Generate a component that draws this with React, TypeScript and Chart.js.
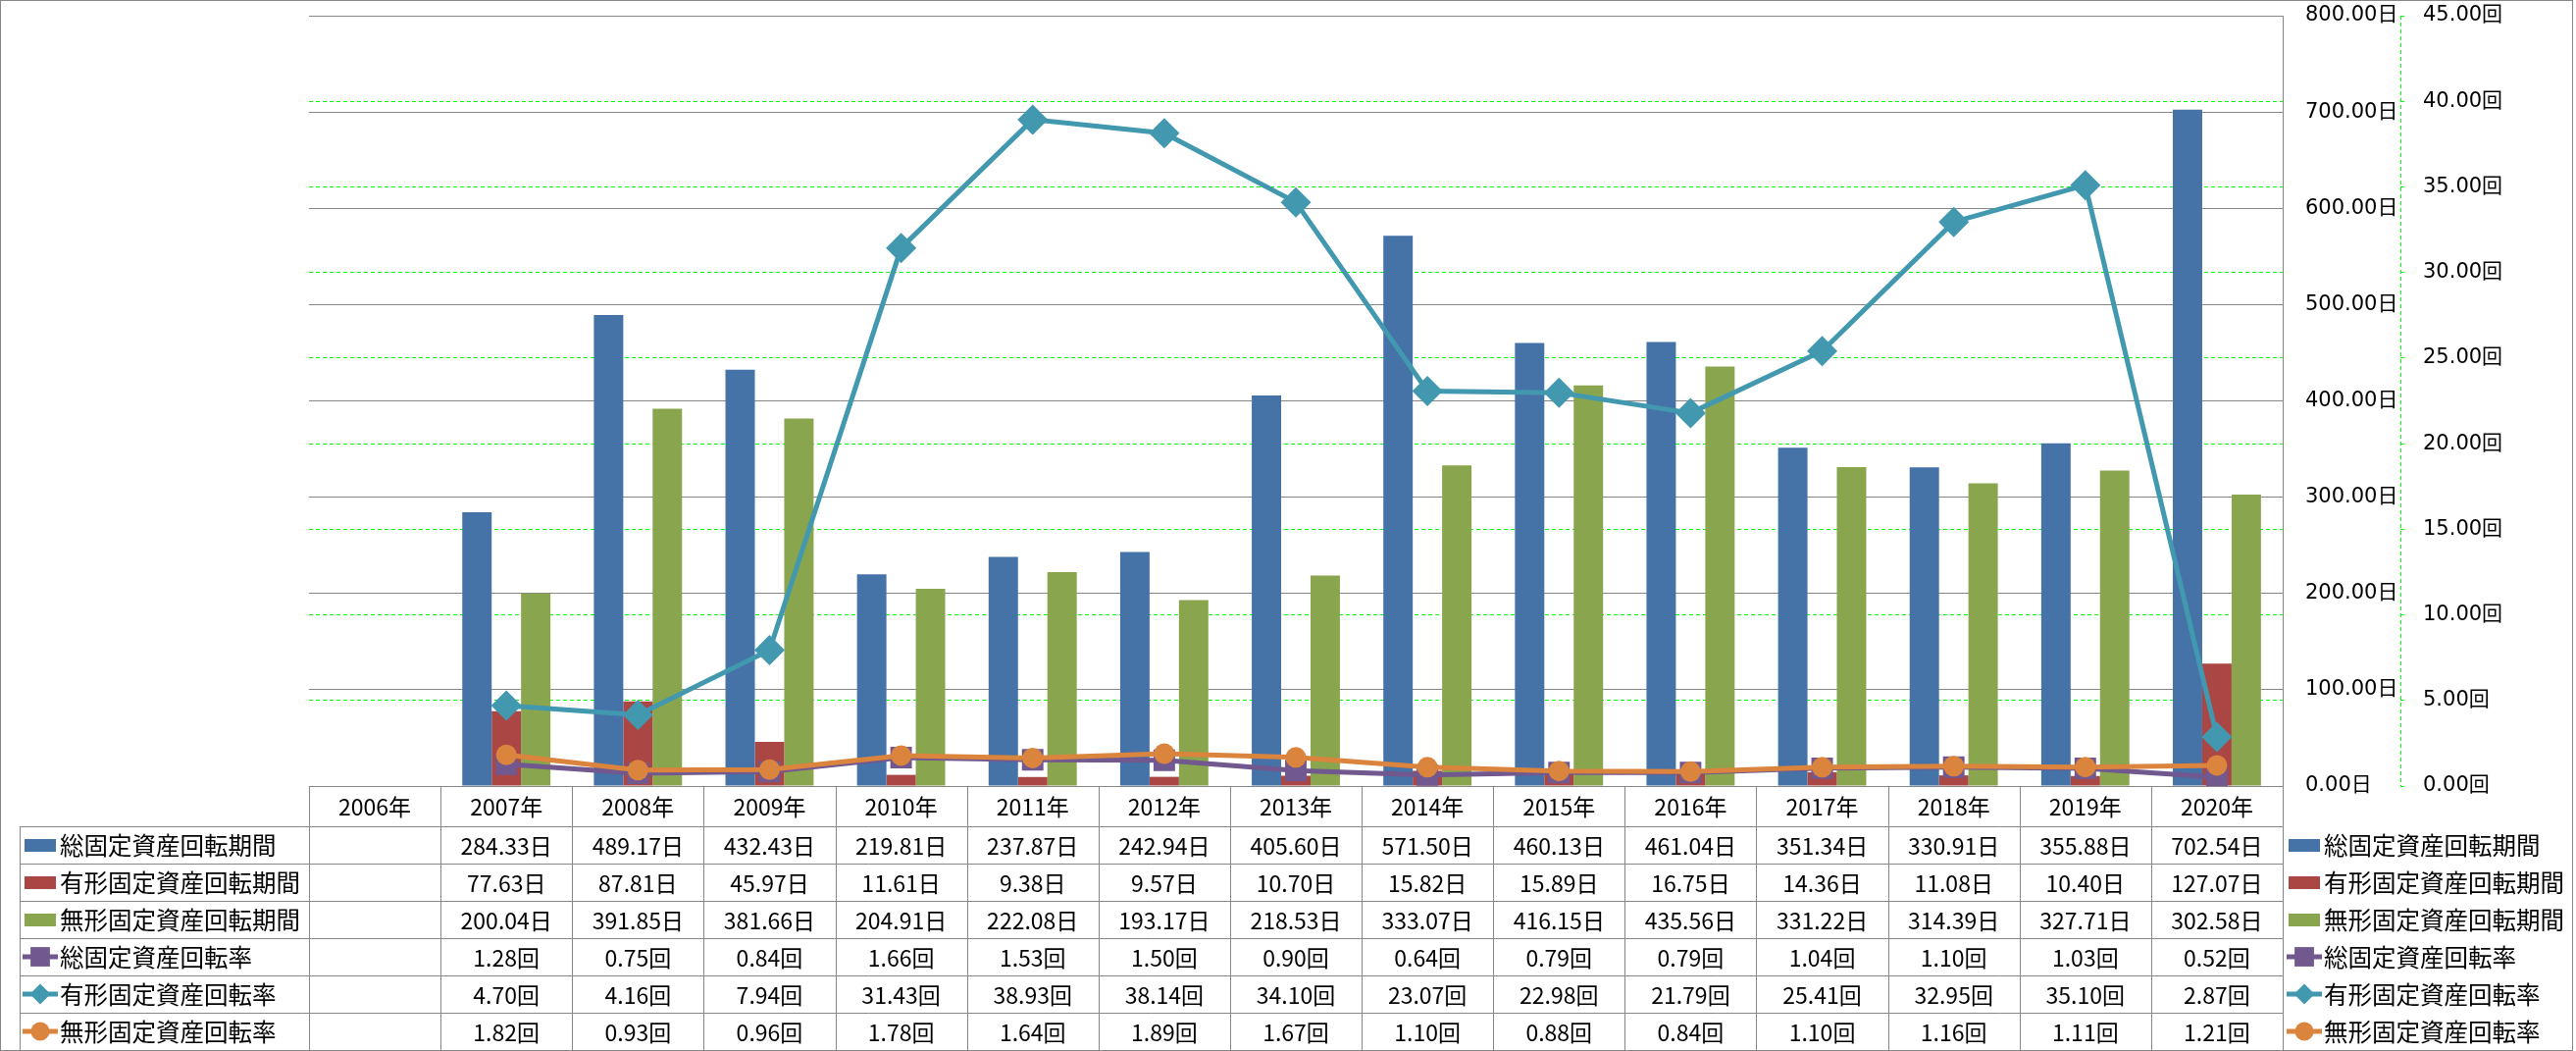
import React, { useEffect, useRef } from "react";
import { Chart, registerables } from "chart.js";

Chart.register(...registerables);

const years = ["2006年", "2007年", "2008年", "2009年", "2010年", "2011年", "2012年", "2013年", "2014年", "2015年", "2016年", "2017年", "2018年", "2019年", "2020年"];

const totalPeriod = [null, 284.33, 489.17, 432.43, 219.81, 237.87, 242.94, 405.6, 571.5, 460.13, 461.04, 351.34, 330.91, 355.88, 702.54];
const tangiblePeriod = [null, 77.63, 87.81, 45.97, 11.61, 9.38, 9.57, 10.7, 15.82, 15.89, 16.75, 14.36, 11.08, 10.4, 127.07];
const intangiblePeriod = [null, 200.04, 391.85, 381.66, 204.91, 222.08, 193.17, 218.53, 333.07, 416.15, 435.56, 331.22, 314.39, 327.71, 302.58];
const totalRate = [null, 1.28, 0.75, 0.84, 1.66, 1.53, 1.5, 0.9, 0.64, 0.79, 0.79, 1.04, 1.1, 1.03, 0.52];
const tangibleRate = [null, 4.7, 4.16, 7.94, 31.43, 38.93, 38.14, 34.1, 23.07, 22.98, 21.79, 25.41, 32.95, 35.1, 2.87];
const intangibleRate = [null, 1.82, 0.93, 0.96, 1.78, 1.64, 1.89, 1.67, 1.1, 0.88, 0.84, 1.1, 1.16, 1.11, 1.21];

const seriesNames = [
  "総固定資産回転期間",
  "有形固定資産回転期間",
  "無形固定資産回転期間",
  "総固定資産回転率",
  "有形固定資産回転率",
  "無形固定資産回転率",
];

const dayUnit = "日";
const rateUnit = "回";
const dayAxisMax = 800;
const dayAxisStep = 100;
const rateAxisMax = 45;
const rateAxisStep = 5;

const BLUE = "#4572A7";
const RED = "#AA4643";
const GREEN = "#89A54E";
const PURPLE = "#71588F";
const TEAL = "#4198AF";
const ORANGE = "#DB843D";
const GRAY = "#868686";
const GRID_GREEN = "#00FF00";

const TICK_FAMILY = "'DejaVu Sans', 'Noto Sans CJK JP', sans-serif";
const TABLE_FAMILY = "'Noto Sans CJK JP', 'Noto Sans', sans-serif";

type Row = { label: string; values: (number | null)[]; unit: string; color: string; kind: "bar" | "line"; marker?: string };

const rows: Row[] = [
  { label: seriesNames[0], values: totalPeriod, unit: dayUnit, color: BLUE, kind: "bar" },
  { label: seriesNames[1], values: tangiblePeriod, unit: dayUnit, color: RED, kind: "bar" },
  { label: seriesNames[2], values: intangiblePeriod, unit: dayUnit, color: GREEN, kind: "bar" },
  { label: seriesNames[3], values: totalRate, unit: rateUnit, color: PURPLE, kind: "line", marker: "rect" },
  { label: seriesNames[4], values: tangibleRate, unit: rateUnit, color: TEAL, kind: "line", marker: "rectRot" },
  { label: seriesNames[5], values: intangibleRate, unit: rateUnit, color: ORANGE, kind: "line", marker: "circle" },
];

function drawMarker(ctx: CanvasRenderingContext2D, style: string, x: number, y: number, r: number, color: string) {
  ctx.fillStyle = color;
  ctx.beginPath();
  if (style === "rect") {
    const s = r * Math.SQRT1_2;
    ctx.rect(x - s, y - s, 2 * s, 2 * s);
  } else if (style === "rectRot") {
    ctx.moveTo(x - r, y);
    ctx.lineTo(x, y - r);
    ctx.lineTo(x + r, y);
    ctx.lineTo(x, y + r);
    ctx.closePath();
  } else {
    ctx.arc(x, y, r, 0, Math.PI * 2);
  }
  ctx.fill();
}

function drawKey(ctx: CanvasRenderingContext2D, row: Row, x: number, cy: number) {
  if (row.kind === "bar") {
    ctx.fillStyle = row.color;
    ctx.fillRect(x, Math.round(cy - 6.5), 32, 13);
  } else {
    ctx.strokeStyle = row.color;
    ctx.lineWidth = 5;
    ctx.beginPath();
    ctx.moveTo(x - 2, cy);
    ctx.lineTo(x + 34, cy);
    ctx.stroke();
    const r = row.marker === "rect" ? 14 : row.marker === "rectRot" ? 10.5 : 9.5;
    drawMarker(ctx, row.marker || "circle", x + 16, cy, r, row.color);
  }
}

const tablePlugin = {
  id: "dataTable",
  afterDraw(chart: any) {
    const ctx: CanvasRenderingContext2D = chart.ctx;
    const { left, right, bottom } = chart.chartArea;
    const n = years.length;
    const colW = (right - left) / n;
    const headerH = 41;
    const rowH = 38;
    const headerBottom = bottom + headerH;
    const tableBottom = headerBottom + rowH * rows.length;
    const labelLeft = 20;
    ctx.save();

    // outer frame
    ctx.strokeStyle = GRAY;
    ctx.lineWidth = 1;
    ctx.strokeRect(0.5, 0.5, 2622, 1070);

    // secondary axis dashed line
    const y1 = chart.scales.y1;
    ctx.save();
    ctx.strokeStyle = GRID_GREEN;
    ctx.setLineDash([4, 3]);
    ctx.beginPath();
    ctx.moveTo(Math.round(y1.left) + 0.5, chart.chartArea.top);
    ctx.lineTo(Math.round(y1.left) + 0.5, bottom);
    ctx.stroke();
    ctx.restore();

    // table grid
    ctx.strokeStyle = GRAY;
    ctx.lineWidth = 1;
    ctx.beginPath();
    for (let i = 0; i <= n; i++) {
      const x = Math.round(left + i * colW) + 0.5;
      ctx.moveTo(x, bottom);
      ctx.lineTo(x, tableBottom);
    }
    for (let r = 0; r <= rows.length; r++) {
      const y = Math.round(headerBottom + r * rowH) + 0.5;
      ctx.moveTo(labelLeft + 0.5, y);
      ctx.lineTo(right, y);
    }
    ctx.moveTo(labelLeft + 0.5, headerBottom);
    ctx.lineTo(labelLeft + 0.5, tableBottom);
    ctx.stroke();

    // header
    ctx.fillStyle = "#000";
    ctx.textBaseline = "middle";
    ctx.textAlign = "center";
    ctx.font = `23px ${TABLE_FAMILY}`;
    years.forEach((yr, i) => {
      ctx.fillText(yr, left + (i + 0.5) * colW, bottom + headerH / 2 + 1);
    });

    // rows
    rows.forEach((row, r) => {
      const cy = headerBottom + r * rowH + rowH / 2;
      ctx.textAlign = "center";
      ctx.fillStyle = "#000";
      ctx.font = `23px ${TABLE_FAMILY}`;
      row.values.forEach((v, i) => {
        if (v === null || v === undefined) return;
        ctx.fillText(`${v.toFixed(2)}${row.unit}`, left + (i + 0.5) * colW, cy + 1);
      });
      // left label
      drawKey(ctx, row, labelLeft + 5, cy);
      ctx.fillStyle = "#000";
      ctx.textAlign = "left";
      ctx.font = `24.5px ${TABLE_FAMILY}`;
      ctx.fillText(row.label, labelLeft + 41, cy + 1);
      // right legend
      drawKey(ctx, row, right + 6, cy);
      ctx.fillStyle = "#000";
      ctx.fillText(row.label, right + 42, cy + 1);
    });
    ctx.restore();
  },
};

export default function App() {
  const canvasRef = useRef<HTMLCanvasElement | null>(null);

  useEffect(() => {
    const canvas = canvasRef.current;
    if (!canvas) return;
    const chart = new Chart(canvas, {
      type: "bar",
      data: {
        labels: years,
        datasets: [
          {
            type: "line",
            label: seriesNames[5],
            data: intangibleRate,
            yAxisID: "y1",
            borderColor: ORANGE,
            backgroundColor: ORANGE,
            borderWidth: 5,
            pointStyle: "circle",
            pointRadius: 10.5,
            pointBackgroundColor: ORANGE,
            pointBorderColor: ORANGE,
            pointBorderWidth: 0,
            order: 1,
          } as any,
          {
            type: "line",
            label: seriesNames[4],
            data: tangibleRate,
            yAxisID: "y1",
            borderColor: TEAL,
            backgroundColor: TEAL,
            borderWidth: 5,
            pointStyle: "rectRot",
            pointRadius: 15.5,
            pointBackgroundColor: TEAL,
            pointBorderColor: TEAL,
            pointBorderWidth: 0,
            order: 2,
          },
          {
            type: "line",
            label: seriesNames[3],
            data: totalRate,
            yAxisID: "y1",
            borderColor: PURPLE,
            backgroundColor: PURPLE,
            borderWidth: 5,
            pointStyle: "rect",
            pointRadius: 15.5,
            pointBackgroundColor: PURPLE,
            pointBorderColor: PURPLE,
            pointBorderWidth: 0,
            order: 3,
          },
          { type: "bar", label: seriesNames[0], data: totalPeriod, backgroundColor: BLUE, yAxisID: "y", order: 4 },
          { type: "bar", label: seriesNames[1], data: tangiblePeriod, backgroundColor: RED, yAxisID: "y", order: 5 },
          { type: "bar", label: seriesNames[2], data: intangiblePeriod, backgroundColor: GREEN, yAxisID: "y", order: 6 },
        ] as any,
      },
      options: {
        responsive: false,
        animation: false,
        devicePixelRatio: 1,
        layout: { padding: { left: 315, top: 16, right: 0, bottom: 270 } },
        datasets: {
          bar: { categoryPercentage: 0.67, barPercentage: 1, borderWidth: 0 },
        } as any,
        plugins: {
          legend: { display: false },
          tooltip: { enabled: false },
        },
        scales: {
          x: {
            display: false,
            grid: { display: false },
          },
          y: {
            position: "right",
            weight: 0,
            min: 0,
            max: dayAxisMax,
            ticks: {
              stepSize: dayAxisStep,
              padding: 23,
              color: "#000",
              font: { family: TICK_FAMILY, size: 21 },
              callback: (v: any) => `${Number(v).toFixed(2)}${dayUnit}`,
            },
            grid: { color: GRAY, lineWidth: 1, drawTicks: false },
            border: { display: true, color: GRAY, width: 1 },
            afterFit: (s: any) => {
              s.width = 120;
              s.paddingTop = 0;
              s.paddingBottom = 0;
            },
          },
          y1: {
            position: "right",
            weight: 1,
            min: 0,
            max: rateAxisMax,
            ticks: {
              stepSize: rateAxisStep,
              padding: 19,
              color: "#000",
              font: { family: TICK_FAMILY, size: 21 },
              callback: (v: any) => `${Number(v).toFixed(2)}${rateUnit}`,
            },
            grid: {
              color: (c: any) => (c.tick && (c.tick.value === 0 || c.tick.value === rateAxisMax) ? "rgba(0,0,0,0)" : GRID_GREEN),
              tickColor: GRID_GREEN,
              tickLength: 4,
              lineWidth: 1,
            },
            border: { display: false, dash: [4, 3] },
            afterFit: (s: any) => {
              s.width = 179;
              s.paddingTop = 0;
              s.paddingBottom = 0;
            },
          },
        } as any,
      },
      plugins: [tablePlugin],
    });
    return () => chart.destroy();
  }, []);

  return (
    <div style={{ position: "absolute", left: 0, top: 0, width: 2626, height: 1071, background: "#fff" }}>
      <canvas ref={canvasRef} width={2626} height={1071} style={{ display: "block" }} />
    </div>
  );
}
